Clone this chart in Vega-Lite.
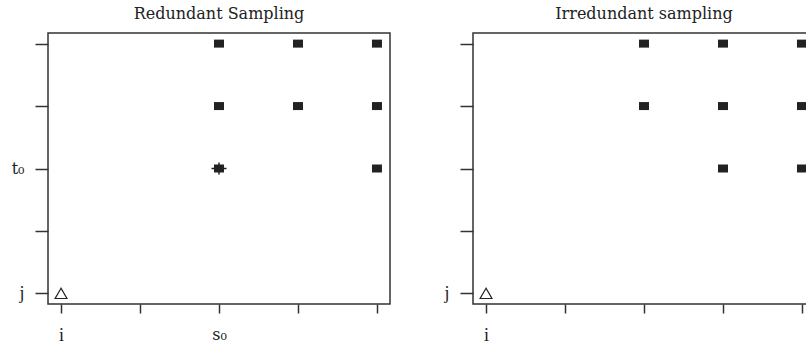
{
  "$schema": "https://vega.github.io/schema/vega-lite/v6.json",
  "background": "white",
  "padding": {"left": 10, "top": 5, "right": 0, "bottom": 0},
  "spacing": 83,
  "bounds": "flush",
  "config": {
    "font": "Liberation Serif",
    "view": {"stroke": "#333", "strokeWidth": 1.5},
    "axis": {"grid": false, "domain": false, "tickColor": "#333", "tickWidth": 1.5, "labelFont": {"condition": {"test": "datum.value == 2", "value": "DejaVu Serif"}, "value": "Liberation Serif"}, "labelFontSize": {"condition": {"test": "datum.value == 2", "value": 16}, "value": 18}, "labelColor": "#222", "title": null},
    "title": {"font": "DejaVu Serif", "fontSize": 16, "fontWeight": "normal", "color": "#222", "anchor": "middle", "offset": 11}
  },
  "datasets": {
    "left": [
      {"s": 0, "t": 0, "kind": "triangle"},
      {"s": 2, "t": 4, "kind": "square"},
      {"s": 3, "t": 4, "kind": "square"},
      {"s": 4, "t": 4, "kind": "square"},
      {"s": 2, "t": 3, "kind": "square"},
      {"s": 3, "t": 3, "kind": "square"},
      {"s": 4, "t": 3, "kind": "square"},
      {"s": 2, "t": 2, "kind": "square"},
      {"s": 2, "t": 2, "kind": "cross"},
      {"s": 4, "t": 2, "kind": "square"}
    ],
    "right": [
      {"s": 0, "t": 0, "kind": "triangle"},
      {"s": 2, "t": 4, "kind": "square"},
      {"s": 3, "t": 4, "kind": "square"},
      {"s": 4, "t": 4, "kind": "square"},
      {"s": 2, "t": 3, "kind": "square"},
      {"s": 3, "t": 3, "kind": "square"},
      {"s": 4, "t": 3, "kind": "square"},
      {"s": 3, "t": 2, "kind": "square"},
      {"s": 4, "t": 2, "kind": "square"}
    ]
  },
  "hconcat": [
    {
      "title": "Redundant Sampling",
      "width": 342,
      "height": 271,
      "data": {"name": "left"},
      "encoding": {
        "x": {"field": "s", "type": "quantitative", "scale": {"domain": [-0.165, 4.165], "nice": false, "zero": false},
              "axis": {"values": [0, 1, 2, 3, 4], "tickSize": 9, "labelPadding": 13, "labelExpr": "datum.value == 0 ? 'i' : datum.value == 2 ? 's₀' : ''"}},
        "y": {"field": "t", "type": "quantitative", "scale": {"domain": [-0.17, 4.17], "nice": false, "zero": false},
              "axis": {"values": [0, 1, 2, 3, 4], "tickSize": 13, "labelPadding": 11, "labelExpr": "datum.value == 0 ? 'j' : datum.value == 2 ? 't₀' : ''"}}
      },
      "layer": [
        {"transform": [{"filter": "datum.kind == 'square'"}], "mark": {"type": "point", "shape": "M-1,-0.8H1V0.8H-1Z", "filled": true, "color": "#222", "size": 100, "opacity": 1}},
        {"transform": [{"filter": "datum.kind == 'cross'"}], "mark": {"type": "point", "shape": "M-1,0H1M0,-0.8V0.8", "filled": false, "color": "#222", "strokeWidth": 1.5, "size": 225, "opacity": 1}},
        {"transform": [{"filter": "datum.kind == 'triangle'"}], "mark": {"type": "point", "shape": "triangle-up", "filled": true, "fill": "white", "stroke": "#222", "strokeWidth": 1.2, "size": 140, "opacity": 1}}
      ]
    },
    {
      "title": "Irredundant sampling",
      "width": 342,
      "height": 271,
      "data": {"name": "right"},
      "encoding": {
        "x": {"field": "s", "type": "quantitative", "scale": {"domain": [-0.165, 4.165], "nice": false, "zero": false},
              "axis": {"values": [0, 1, 2, 3, 4], "tickSize": 9, "labelPadding": 13, "labelExpr": "datum.value == 0 ? 'i' : ''"}},
        "y": {"field": "t", "type": "quantitative", "scale": {"domain": [-0.17, 4.17], "nice": false, "zero": false},
              "axis": {"values": [0, 1, 2, 3, 4], "tickSize": 13, "labelPadding": 11, "labelExpr": "datum.value == 0 ? 'j' : ''"}}
      },
      "layer": [
        {"transform": [{"filter": "datum.kind == 'square'"}], "mark": {"type": "point", "shape": "M-1,-0.8H1V0.8H-1Z", "filled": true, "color": "#222", "size": 100, "opacity": 1}},
        {"transform": [{"filter": "datum.kind == 'triangle'"}], "mark": {"type": "point", "shape": "triangle-up", "filled": true, "fill": "white", "stroke": "#222", "strokeWidth": 1.2, "size": 140, "opacity": 1}}
      ]
    }
  ]
}
